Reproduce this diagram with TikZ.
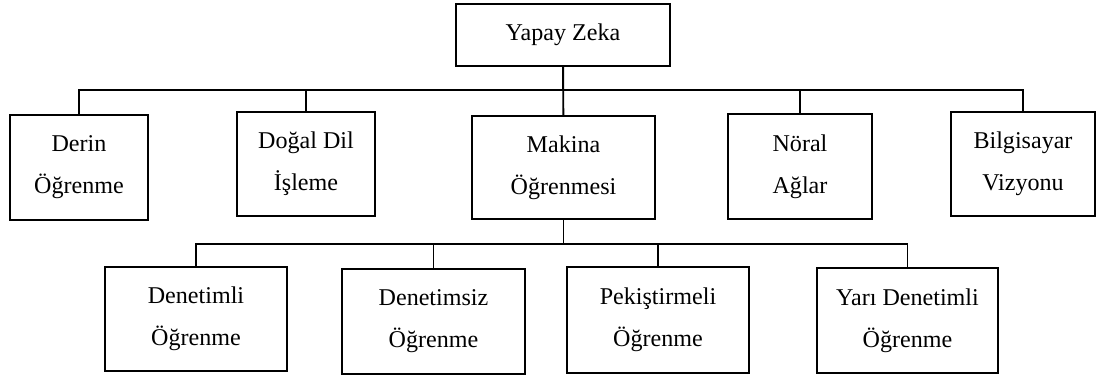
\documentclass[tikz,border=0pt]{standalone}
\usepackage{fontspec}
\setmainfont{Liberation Serif}
\usepackage{tikz}
\usetikzlibrary{positioning}

\begin{document}
\begin{tikzpicture}[
    box/.style={rectangle, draw, line width=1.1pt, align=center, inner sep=0pt,
        font=\fontsize{13.7}{24}\selectfont},
    link/.style={line width=1.1pt}
]
\useasboundingbox (0,0) rectangle (22.02,-7.52);

% Root
\node[box, minimum width=4.28cm, minimum height=1.24cm] (ai) at (11.26,-0.70) {Yapay Zeka};

% First level
\node[box, minimum width=2.76cm, minimum height=2.10cm] (derin) at (1.58,-3.35) {Derin\\Öğrenme};
\node[box, minimum width=2.76cm, minimum height=2.08cm] (dogal) at (6.12,-3.28) {Doğal Dil\\İşleme};
\node[box, minimum width=3.66cm, minimum height=2.06cm] (makina) at (11.27,-3.35) {Makina\\Öğrenmesi};
\node[box, minimum width=2.88cm, minimum height=2.10cm] (noral) at (16.00,-3.33) {Nöral\\Ağlar};
\node[box, minimum width=2.88cm, minimum height=2.08cm] (bilgi) at (20.46,-3.28) {Bilgisayar\\Vizyonu};

% Second level (under Makina Öğrenmesi)
\node[box, minimum width=3.64cm, minimum height=2.08cm] (den) at (3.92,-6.38) {Denetimli\\Öğrenme};
\node[box, minimum width=3.66cm, minimum height=2.10cm] (densiz) at (8.67,-6.43) {Denetimsiz\\Öğrenme};
\node[box, minimum width=3.64cm, minimum height=2.12cm] (pek) at (13.16,-6.40) {Pekiştirmeli\\Öğrenme};
\node[box, minimum width=3.62cm, minimum height=2.10cm] (yari) at (18.15,-6.41) {Yarı Denetimli\\Öğrenme};

% Bus points
\coordinate (bus1) at (11.26,-1.80);
\coordinate (bus2) at (11.27,-4.88);

% Root to first level
\draw[link] (ai) -- (makina);
\draw[link] (bus1) -| (derin.north);
\draw[link] (bus1) -| (dogal.north);
\draw[link] (bus1) -| (noral.north);
\draw[link] (bus1) -| (bilgi.north);

% Makina Öğrenmesi to second level
\draw[link] (makina) -- (bus2);
\draw[link] (bus2) -| (den.north);
\draw[link] (bus2) -| (densiz.north);
\draw[link] (bus2) -| (pek.north);
\draw[link] (bus2) -| (yari.north);

\end{tikzpicture}
\end{document}
